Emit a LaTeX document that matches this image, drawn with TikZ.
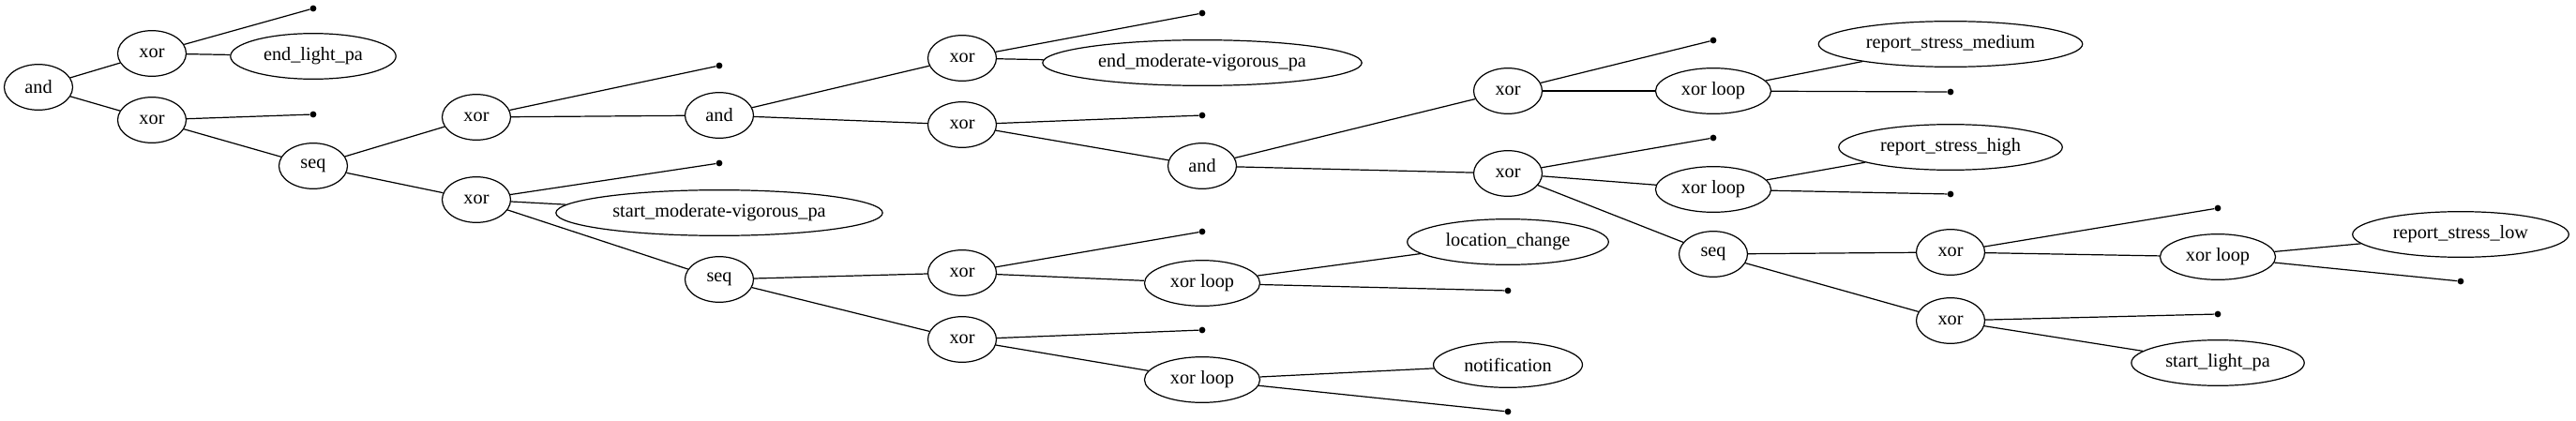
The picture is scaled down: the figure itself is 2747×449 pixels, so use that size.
\documentclass[tikz,border=0pt]{standalone}
\usepackage{fontspec}
\setmainfont{Liberation Serif}
\usepackage{tikz}
\usetikzlibrary{shapes.geometric,positioning}
\tikzset{
  opnode/.style={ellipse,draw=black,line width=0.9pt,minimum width=54pt,
                 minimum height=36pt,inner xsep=7pt,inner ysep=3pt,
                 font=\fontsize{15}{17}\selectfont},
  actnode/.style={opnode},
  leaf/.style={circle,fill=black,inner sep=0pt,minimum size=5pt},
  link/.style={line width=0.9pt,black},
}

\begin{document}
\begin{tikzpicture}[x=0.74pt,y=-0.74pt]
    \useasboundingbox (0,0) rectangle (2747,449);

    % Root
    \node[opnode] (and0) at (41,93) {and};

    % Rank 1
    \node[opnode] (xor1) at (162,57) {xor};
    \node[opnode] (xor2) at (162,128) {xor};

    % Rank 2
    \node[leaf] (p1) at (334,9) {};
    \node[actnode] (endlight) at (334,60) {end\_light\_pa};
    \node[leaf] (p2) at (334,122) {};
    \node[opnode] (seq1) at (334,177) {seq};

    % Rank 3
    \node[opnode] (xorA) at (508,125) {xor};
    \node[opnode] (xorC) at (508,213) {xor};

    % Rank 4
    \node[leaf] (p3) at (767,70) {};
    \node[opnode] (andB) at (767,123) {and};
    \node[leaf] (p4) at (767,174) {};
    \node[actnode] (startmod) at (767,227) {start\_moderate-vigorous\_pa};
    \node[opnode] (seqD) at (767,298) {seq};

    % Rank 5
    \node[opnode] (xorB1) at (1026,62) {xor};
    \node[opnode] (xorB2) at (1026,133) {xor};
    \node[opnode] (xorF1) at (1026,291) {xor};
    \node[opnode] (xorF2) at (1026,362) {xor};

    % Rank 6
    \node[leaf] (p5) at (1282,14) {};
    \node[actnode] (endmod) at (1282,67) {end\_moderate-vigorous\_pa};
    \node[leaf] (p6) at (1282,123) {};
    \node[opnode] (andC) at (1282,177) {and};
    \node[leaf] (p7) at (1282,247) {};
    \node[opnode] (loopF1) at (1282,302) {xor loop};
    \node[leaf] (p8) at (1282,352) {};
    \node[opnode] (loopF2) at (1282,405) {xor loop};

    % Rank 7
    \node[opnode] (xorD1) at (1608,97) {xor};
    \node[opnode] (xorD2) at (1608,185) {xor};
    \node[actnode] (locchange) at (1608,258) {location\_change};
    \node[leaf] (p9) at (1608,310) {};
    \node[actnode] (notif) at (1608,389) {notification};
    \node[leaf] (p10) at (1608,439) {};

    % Rank 8
    \node[leaf] (p11) at (1827,43) {};
    \node[opnode] (loopD1) at (1827,97) {xor loop};
    \node[leaf] (p12) at (1827,147) {};
    \node[opnode] (loopD2) at (1827,202) {xor loop};
    \node[opnode] (seqE) at (1827,271) {seq};

    % Rank 9
    \node[actnode] (stressmed) at (2080,47) {report\_stress\_medium};
    \node[leaf] (p13) at (2080,98) {};
    \node[actnode] (stresshigh) at (2080,157) {report\_stress\_high};
    \node[leaf] (p14) at (2080,207) {};
    \node[opnode] (xorE1) at (2080,269) {xor};
    \node[opnode] (xorE2) at (2080,342) {xor};

    % Rank 10
    \node[leaf] (p15) at (2365,222) {};
    \node[opnode] (loopE1) at (2365,274) {xor loop};
    \node[leaf] (p16) at (2365,335) {};
    \node[actnode] (startlight) at (2365,387) {start\_light\_pa};

    % Rank 11
    \node[actnode] (stresslow) at (2624,250) {report\_stress\_low};
    \node[leaf] (p17) at (2624,300) {};

    \draw[link] (and0) -- (xor1);
    \draw[link] (and0) -- (xor2);
    \draw[link] (xor1) -- (p1);
    \draw[link] (xor1) -- (endlight);
    \draw[link] (xor2) -- (p2);
    \draw[link] (xor2) -- (seq1);
    \draw[link] (seq1) -- (xorA);
    \draw[link] (seq1) -- (xorC);
    \draw[link] (xorA) -- (p3);
    \draw[link] (xorA) -- (andB);
    \draw[link] (xorC) -- (p4);
    \draw[link] (xorC) -- (startmod);
    \draw[link] (xorC) -- (seqD);
    \draw[link] (andB) -- (xorB1);
    \draw[link] (andB) -- (xorB2);
    \draw[link] (xorB1) -- (p5);
    \draw[link] (xorB1) -- (endmod);
    \draw[link] (xorB2) -- (p6);
    \draw[link] (xorB2) -- (andC);
    \draw[link] (seqD) -- (xorF1);
    \draw[link] (seqD) -- (xorF2);
    \draw[link] (xorF1) -- (p7);
    \draw[link] (xorF1) -- (loopF1);
    \draw[link] (xorF2) -- (p8);
    \draw[link] (xorF2) -- (loopF2);
    \draw[link] (loopF1) -- (locchange);
    \draw[link] (loopF1) -- (p9);
    \draw[link] (loopF2) -- (notif);
    \draw[link] (loopF2) -- (p10);
    \draw[link] (andC) -- (xorD1);
    \draw[link] (andC) -- (xorD2);
    \draw[link] (xorD1) -- (p11);
    \draw[link] (xorD1) -- (loopD1);
    \draw[link] (xorD2) -- (p12);
    \draw[link] (xorD2) -- (loopD2);
    \draw[link] (xorD2) -- (seqE);
    \draw[link] (loopD1) -- (stressmed);
    \draw[link] (loopD1) -- (p13);
    \draw[link] (loopD2) -- (stresshigh);
    \draw[link] (loopD2) -- (p14);
    \draw[link] (seqE) -- (xorE1);
    \draw[link] (seqE) -- (xorE2);
    \draw[link] (xorE1) -- (p15);
    \draw[link] (xorE1) -- (loopE1);
    \draw[link] (xorE2) -- (p16);
    \draw[link] (xorE2) -- (startlight);
    \draw[link] (loopE1) -- (stresslow);
    \draw[link] (loopE1) -- (p17);

  \end{tikzpicture}
\end{document}
